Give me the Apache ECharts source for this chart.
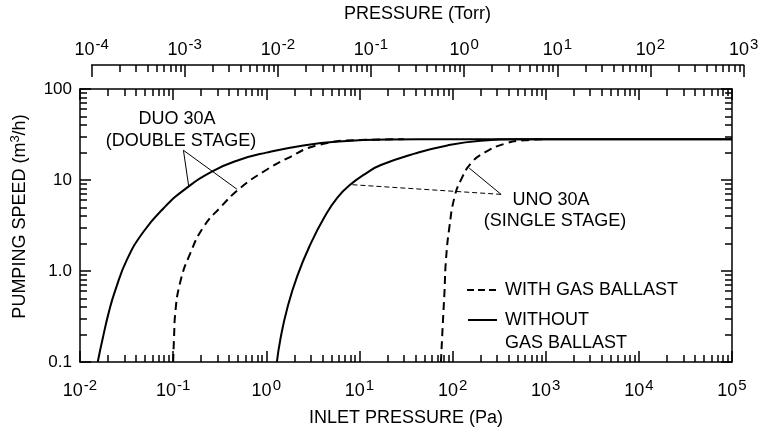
<!DOCTYPE html>
<html>
<head>
<meta charset="utf-8">
<script src="https://cdn.jsdelivr.net/npm/echarts@6/dist/echarts.min.js"></script>
<style>html,body{margin:0;padding:0;background:#fff}#c{width:765px;height:432px}</style>
</head>
<body>
<div id="c"></div>
<script>
// ---------- data ----------
// DUO 30A (double stage), without gas ballast: inlet pressure (Pa) / pumping speed (m3/h)
const duoSolidP = [0.0155, 0.0175, 0.0205, 0.024, 0.032, 0.048, 0.079, 0.14, 0.27, 0.5, 1.0, 2.5, 6, 20, 100, 100000];
const duoSolidS = [0.1, 0.18, 0.36, 0.62, 1.34, 2.7, 4.9, 8.2, 12.6, 16.5, 20, 24, 26.5, 27.8, 28, 28];
// DUO 30A, with gas ballast
const duoDashP = [0.1, 0.1025, 0.105, 0.119, 0.153, 0.212, 0.321, 0.528, 0.94, 1.68, 3.5, 10, 30];
const duoDashS = [0.1, 0.2, 0.33, 0.75, 1.57, 3.05, 5.0, 8.2, 12.4, 17.3, 24, 27.5, 28];
// UNO 30A (single stage), without gas ballast
const unoSolidP = [1.3, 1.42, 1.68, 2.15, 3.0, 4.2, 5.8, 8.0, 12, 17, 39, 88, 200, 500, 100000];
const unoSolidS = [0.1, 0.18, 0.39, 0.88, 2.0, 3.9, 6.4, 8.9, 12, 14.6, 19.5, 24, 27, 28, 28];
// UNO 30A, with gas ballast
const unoDashP = [75, 78.5, 81.8, 85, 92.5, 105, 124, 158, 220, 361, 593, 1000];
const unoDashS = [0.1, 0.26, 0.58, 1.34, 3.05, 6.5, 10.2, 15.3, 20, 25, 27.3, 28];

// tick values / labels
const paTicks = [1e-2, 1e-1, 1e0, 1e1, 1e2, 1e3, 1e4, 1e5];
const torrTicks = [1e-4, 1e-3, 1e-2, 1e-1, 1e0, 1e1, 1e2, 1e3];
const speedTicks = [0.1, 1, 10, 100];
const speedTickLabels = ['0.1', '1.0', '10', '100'];

// annotation arrows (data coordinates: [Pa, m3/h])
const duoArrowFrom = [0.129, 21.2];
const duoArrowTo = [[0.147, 8.5], [0.486, 7.9]];
const unoArrowFrom = [332, 6.95];
const unoArrowToDashed = [151, 13.5];
const unoArrowToSolid = [8.06, 8.9];

// ---------- helpers ----------
const FONT = 'Liberation Sans';
function pairs(p, s) { return p.map((v, i) => [v, s[i]]); }
function minors(decades) {
  const out = [];
  for (let i = 0; i < decades.length - 1; i++) {
    for (let k = 2; k <= 9; k++) out.push(decades[i] * k);
  }
  return out;
}
function expLabel(v) {
  const e = Math.round(Math.log10(v));
  return '{b|10}{e|' + e + '}';
}
const richExp = {
  b: { fontSize: 18, fontFamily: FONT, color: '#000', lineHeight: 18 },
  e: { fontSize: 15, fontFamily: FONT, color: '#000', lineHeight: 15, padding: [0, 0, 10, 1] }
};
const black = { color: '#000', width: 1.5 };

function axis(base, extra) {
  return Object.assign({
    type: 'log', logBase: 10,
    splitLine: { show: false },
    axisLine: { show: false, onZero: false },
    axisLabel: { show: false },
    axisTick: { show: false }
  }, base, extra);
}

const xMain = { gridIndex: 0, min: 1e-2, max: 1e5 };
const yMain = { gridIndex: 0, min: 0.1, max: 100 };
const xTorr = { gridIndex: 1, min: 1e-4, max: 1e3 };

const chart = echarts.init(document.getElementById('c'), null, { renderer: 'canvas' });

const lineBase = { type: 'line', xAxisIndex: 0, yAxisIndex: 0, symbol: 'none', showSymbol: false, smooth: 0.5 };

const arrowLine = (from, to, dashed) => [
  { coord: from, lineStyle: { color: '#000', width: 1, type: dashed ? [5, 3] : 'solid' } },
  { coord: to }
];

chart.setOption({
  animation: false,
  backgroundColor: '#fff',
  grid: [
    { left: 80, top: 89, width: 652, height: 278 },
    { left: 91.6, top: 62, width: 652, height: 305 }
  ],
  xAxis: [
    axis(xMain, {
      position: 'bottom',
      axisLine: { show: true, onZero: false, lineStyle: black },
      axisTick: { show: true, inside: true, length: 11, lineStyle: black, customValues: paTicks },
      axisLabel: { show: true, margin: 20, customValues: paTicks, formatter: expLabel, rich: richExp },
      name: 'INLET PRESSURE (Pa)', nameLocation: 'middle', nameGap: 47,
      nameTextStyle: { fontSize: 18, fontFamily: FONT, color: '#000' }
    }),
    axis(xMain, { position: 'bottom', axisTick: { show: true, inside: true, length: 7, lineStyle: black, customValues: minors(paTicks) } }),
    axis(xMain, {
      position: 'top',
      axisLine: { show: true, onZero: false, lineStyle: black },
      axisTick: { show: true, inside: true, length: 11, lineStyle: black, customValues: paTicks }
    }),
    axis(xMain, { position: 'top', axisTick: { show: true, inside: true, length: 7, lineStyle: black, customValues: minors(paTicks) } }),
    axis(xTorr, {
      position: 'top',
      axisLine: { show: true, onZero: false, lineStyle: black },
      axisTick: { show: true, inside: true, length: 12, lineStyle: black, customValues: torrTicks },
      axisLabel: { show: true, margin: 6, customValues: torrTicks, formatter: expLabel, rich: richExp },
      name: 'PRESSURE (Torr)', nameLocation: 'middle', nameGap: 42,
      nameTextStyle: { fontSize: 18, fontFamily: FONT, color: '#000' }
    }),
    axis(xTorr, { position: 'top', axisTick: { show: true, inside: true, length: 7, lineStyle: black, customValues: minors(torrTicks) } })
  ],
  yAxis: [
    axis(yMain, {
      position: 'left',
      axisLine: { show: true, onZero: false, lineStyle: black },
      axisTick: { show: true, inside: true, length: 11, lineStyle: black, customValues: speedTicks },
      axisLabel: {
        show: true, margin: 8, customValues: speedTicks,
        fontSize: 17, fontFamily: FONT, color: '#000',
        formatter: v => speedTickLabels[speedTicks.findIndex(t => Math.abs(Math.log10(t) - Math.log10(v)) < 1e-6)]
      },
      name: '{n|PUMPING SPEED (m}{s|3}{n|/h)}', nameLocation: 'middle', nameGap: 51,
      nameTextStyle: {
        color: '#000',
        padding: [0, 0, 0, 18],
        rich: {
          n: { fontSize: 18, fontFamily: FONT, color: '#000', lineHeight: 18 },
          s: { fontSize: 13, fontFamily: FONT, color: '#000', lineHeight: 13, padding: [0, 0, 9, 0] }
        }
      }
    }),
    axis(yMain, { position: 'left', axisTick: { show: true, inside: true, length: 7, lineStyle: black, customValues: minors(speedTicks) } }),
    axis(yMain, {
      position: 'right',
      axisLine: { show: true, onZero: false, lineStyle: black },
      axisTick: { show: true, inside: true, length: 11, lineStyle: black, customValues: speedTicks }
    }),
    axis(yMain, { position: 'right', axisTick: { show: true, inside: true, length: 7, lineStyle: black, customValues: minors(speedTicks) } }),
    axis({ gridIndex: 1, min: 1, max: 10 }, { show: false })
  ],
  series: [
    Object.assign({}, lineBase, {
      name: 'DUO 30A without gas ballast',
      data: pairs(duoSolidP, duoSolidS),
      lineStyle: { color: '#000', width: 2 },
      markLine: {
        silent: true, symbol: ['none', 'arrow'], symbolSize: [0, 8],
        label: { show: false },
        data: [arrowLine(duoArrowFrom, duoArrowTo[0]), arrowLine(duoArrowFrom, duoArrowTo[1])]
      }
    }),
    Object.assign({}, lineBase, {
      name: 'DUO 30A with gas ballast',
      data: pairs(duoDashP, duoDashS),
      lineStyle: { color: '#000', width: 2, type: [8, 5] }
    }),
    Object.assign({}, lineBase, {
      name: 'UNO 30A without gas ballast',
      data: pairs(unoSolidP, unoSolidS),
      lineStyle: { color: '#000', width: 2 },
      markLine: {
        silent: true, symbol: ['none', 'arrow'], symbolSize: [0, 8],
        label: { show: false },
        data: [arrowLine(unoArrowFrom, unoArrowToDashed), arrowLine(unoArrowFrom, unoArrowToSolid, true)]
      }
    }),
    Object.assign({}, lineBase, {
      name: 'UNO 30A with gas ballast',
      data: pairs(unoDashP, unoDashS),
      lineStyle: { color: '#000', width: 2, type: [8, 5] }
    })
  ],
  graphic: [
    { type: 'text', x: 177, y: 119, style: { text: 'DUO 30A', font: '18px ' + FONT, fill: '#000', align: 'center', verticalAlign: 'middle' } },
    { type: 'text', x: 181, y: 141, style: { text: '(DOUBLE STAGE)', font: '18px ' + FONT, fill: '#000', align: 'center', verticalAlign: 'middle' } },
    { type: 'text', x: 551, y: 200, style: { text: 'UNO 30A', font: '18px ' + FONT, fill: '#000', align: 'center', verticalAlign: 'middle' } },
    { type: 'text', x: 555, y: 221, style: { text: '(SINGLE STAGE)', font: '18px ' + FONT, fill: '#000', align: 'center', verticalAlign: 'middle' } },
    { type: 'line', shape: { x1: 467, y1: 290, x2: 500, y2: 290 }, style: { stroke: '#000', lineWidth: 2, lineDash: [7, 4] } },
    { type: 'text', x: 505, y: 290, style: { text: 'WITH GAS BALLAST', font: '18px ' + FONT, fill: '#000', align: 'left', verticalAlign: 'middle' } },
    { type: 'line', shape: { x1: 468, y1: 320, x2: 497, y2: 320 }, style: { stroke: '#000', lineWidth: 2 } },
    { type: 'text', x: 505, y: 320, style: { text: 'WITHOUT', font: '18px ' + FONT, fill: '#000', align: 'left', verticalAlign: 'middle' } },
    { type: 'text', x: 505, y: 343, style: { text: 'GAS BALLAST', font: '18px ' + FONT, fill: '#000', align: 'left', verticalAlign: 'middle' } }
  ]
});
</script>
</body>
</html>
